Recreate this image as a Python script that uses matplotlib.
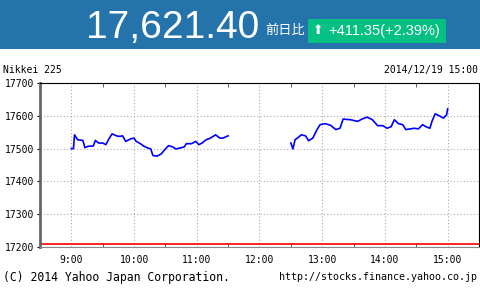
import matplotlib
matplotlib.use("Agg")
import matplotlib.pyplot as plt
from matplotlib.patches import Rectangle
from matplotlib.ticker import MultipleLocator, FixedLocator
import numpy as np

# Nikkei 225 intraday, 2014/12/19
am_times = ["9:00", "9:02", "9:03", "9:06", "9:11", "9:13", "9:16", "9:21", "9:23", "9:26",
            "9:30", "9:33", "9:36", "9:39", "9:43", "9:46", "9:49", "9:52", "9:55", "9:57",
            "10:00", "10:02", "10:06", "10:09", "10:13", "10:16", "10:18", "10:22", "10:26", "10:30",
            "10:33", "10:37", "10:40", "10:44", "10:48", "10:50", "10:55", "10:59", "11:02", "11:05",
            "11:09", "11:13", "11:18", "11:22", "11:25", "11:30"]
am_values = [17500, 17500, 17542, 17527, 17525, 17503, 17507, 17508, 17525, 17517,
             17517, 17512, 17530, 17545, 17539, 17537, 17539, 17522, 17527, 17530,
             17532, 17522, 17515, 17508, 17502, 17499, 17479, 17477, 17484, 17499,
             17509, 17505, 17499, 17502, 17505, 17515, 17515, 17522, 17512, 17517,
             17527, 17532, 17542, 17532, 17532, 17539]

pm_times = ["12:30", "12:32", "12:34", "12:37", "12:40", "12:44", "12:47", "12:51", "12:55", "12:58",
            "13:03", "13:08", "13:13", "13:17", "13:20", "13:27", "13:34", "13:38", "13:43", "13:48",
            "13:53", "13:58", "14:02", "14:06", "14:09", "14:13", "14:17", "14:20", "14:24", "14:28",
            "14:32", "14:36", "14:39", "14:43", "14:45", "14:48", "14:52", "14:56", "14:59", "15:00"]
pm_values = [17517, 17499, 17527, 17534, 17542, 17539, 17524, 17532, 17558, 17573,
             17576, 17571, 17558, 17562, 17590, 17588, 17583, 17590, 17596, 17588,
             17570, 17570, 17562, 17567, 17588, 17576, 17573, 17558, 17560, 17562,
             17560, 17573, 17567, 17562, 17583, 17606, 17600, 17593, 17603, 17621]

prev_close = 17210.05
last_price = "17,621.40"
change_text = "+411.35(+2.39%)"
x_labels = ["9:00", "10:00", "11:00", "12:00", "13:00", "14:00", "15:00"]


def to_hours(ts):
    return np.array([int(t.split(":")[0]) + int(t.split(":")[1]) / 60 for t in ts])


W, H = 480, 290
fig = plt.figure(figsize=(W / 100, H / 100), dpi=100)


def fx(px):
    return px / W


def fy(py):
    return 1 - py / H


# header band
fig.patches.append(Rectangle((0, fy(49)), 1, 49 / H, transform=fig.transFigure,
                             facecolor="#2473aa", edgecolor="none", zorder=0))
fig.text(fx(86), fy(28), last_price, color="white", fontsize=28,
         family="Liberation Sans", va="center", ha="left")
fig.text(fx(265), fy(30), "前日比", color="white", fontsize=9.5,
         family=["Noto Sans CJK JP", "DejaVu Sans"], va="center", ha="left")
fig.patches.append(Rectangle((fx(308), fy(43)), 138 / W, 24 / H, transform=fig.transFigure,
                             facecolor="#05c083", edgecolor="none", zorder=1))
fig.text(fx(318), fy(31), "\u2b06", color="white", fontsize=9,
         family="DejaVu Sans", va="center", ha="center", zorder=2)
fig.text(fx(328), fy(31), change_text, color="white", fontsize=10.5,
         family="Liberation Sans", va="center", ha="left", zorder=2)

mono = "DejaVu Sans Mono"
fig.text(fx(3), fy(70), "Nikkei 225", fontsize=7, family=mono, va="center", ha="left")
fig.text(fx(478), fy(70), "2014/12/19 15:00", fontsize=7, family=mono, va="center", ha="right")
fig.text(fx(3), fy(277), "(C) 2014 Yahoo Japan Corporation.", fontsize=8.3, family=mono,
         va="center", ha="left")
fig.text(fx(477), fy(277), "http://stocks.finance.yahoo.co.jp", fontsize=7.2, family=mono,
         va="center", ha="right")

ax = fig.add_axes([fx(40), fy(247), (479 - 40) / W, (247 - 83) / H])
ax.plot(to_hours(am_times), am_values, color="#0000ff", lw=1.2)
ax.plot(to_hours(pm_times), pm_values, color="#0000ff", lw=1.2)
ax.axhline(prev_close, color="#ff0000", lw=1.2)

ax.set_xlim(8.5, 15.5)
ax.set_ylim(17200, 17700)
ax.xaxis.set_major_locator(FixedLocator(range(9, 16)))
ax.set_xticklabels(x_labels)
ax.xaxis.set_minor_locator(MultipleLocator(0.5))
ax.yaxis.set_major_locator(MultipleLocator(100))
ax.grid(True, which="major", color="#aaaaaa", lw=0.8, linestyle=(0, (1, 2)))
ax.tick_params(axis="x", which="both", direction="in", length=3, top=True,
               labelsize=7, pad=6, color="#444444")
ax.tick_params(axis="x", which="major", length=0)
ax.tick_params(axis="y", which="major", direction="out", length=2, labelsize=7, pad=2)
for lab in ax.get_xticklabels() + ax.get_yticklabels():
    lab.set_family(mono)

ax.spines["left"].set_color("#666666")
ax.spines["left"].set_linewidth(2)
ax.spines["bottom"].set_color("#888888")
ax.spines["bottom"].set_linewidth(0.8)
ax.spines["top"].set_linewidth(0.8)
ax.spines["right"].set_linewidth(0.8)

fig.savefig("out.png", dpi=100)
